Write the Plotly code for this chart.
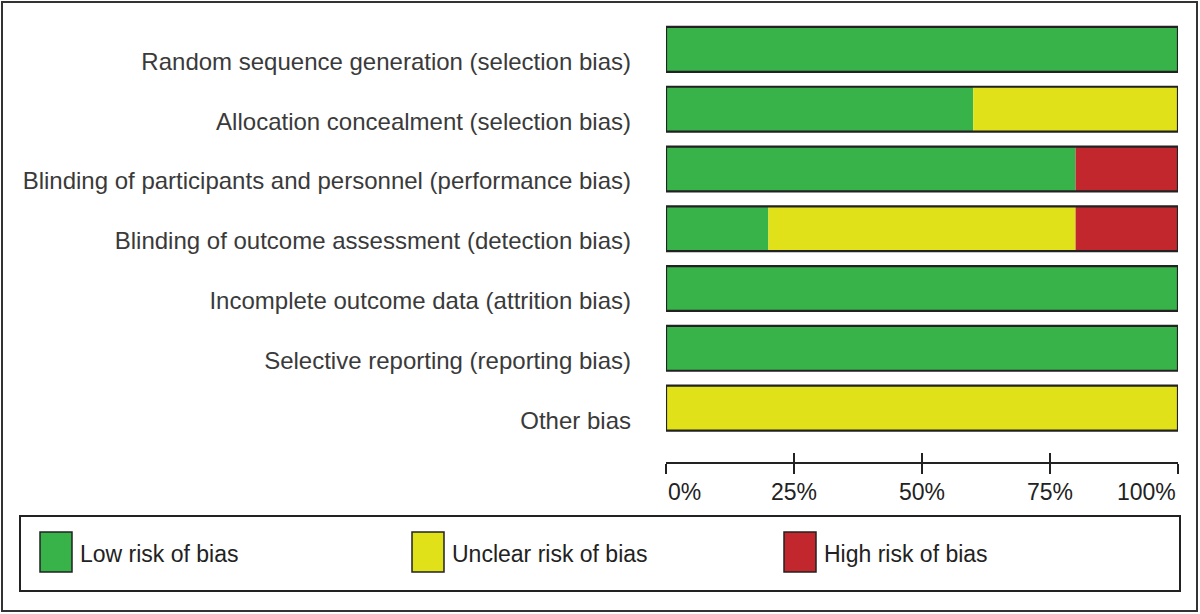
import plotly.graph_objects as go

# ---------------- data ----------------
categories = [
    "Random sequence generation (selection bias)",
    "Allocation concealment (selection bias)",
    "Blinding of participants and personnel (performance bias)",
    "Blinding of outcome assessment (detection bias)",
    "Incomplete outcome data (attrition bias)",
    "Selective reporting (reporting bias)",
    "Other bias",
]
low_risk = [100, 60, 80, 20, 100, 100, 0]
unclear_risk = [0, 40, 0, 60, 0, 0, 100]
high_risk = [0, 0, 20, 20, 0, 0, 0]
tick_values = [0, 25, 50, 75, 100]
tick_labels = ["0%", "25%", "50%", "75%", "100%"]
legend_labels = ["Low risk of bias", "Unclear risk of bias", "High risk of bias"]

# ---------------- style ----------------
W, H = 1200, 614
GREEN, YELLOW, RED = "#37b34a", "#e1e11a", "#c1272d"
DARK = "#222222"
TEXT = "#3a3a3a"
FONT = "Liberation Sans Narrow, Arial Narrow, Liberation Sans, Arial, sans-serif"


def px(x):
    return x / W


def py(y):
    return 1 - y / H


series = [low_risk, unclear_risk, high_risk]
colors = [GREEN, YELLOW, RED]

fig = go.Figure()
base = [0] * len(categories)
for vals, col, name in zip(series, colors, legend_labels):
    fig.add_trace(go.Bar(
        y=categories, x=vals, base=list(base), orientation="h",
        marker=dict(color=col, line=dict(width=0)), width=0.75,
        name=name, showlegend=False,
        hovertemplate="%{y}<br>" + name + ": %{x}%<extra></extra>",
    ))
    base = [b + v for b, v in zip(base, vals)]

# outline of each whole bar
fig.add_trace(go.Bar(
    y=categories, x=base, base=[0] * len(categories), orientation="h",
    marker=dict(color="rgba(0,0,0,0)", line=dict(width=2.2, color=DARK)),
    width=0.75, showlegend=False, hoverinfo="skip",
))

axis_common = dict(
    range=[0, 100], domain=[px(666), px(1178)], anchor="free", position=py(463),
    tickvals=tick_values, showticklabels=False, ticklen=10, tickwidth=2,
    tickcolor=DARK, showgrid=False, zeroline=False, fixedrange=True, automargin=False,
)
fig.update_layout(
    width=W, height=H,
    margin=dict(l=0, r=0, t=0, b=0, autoexpand=False),
    paper_bgcolor="white", plot_bgcolor="white",
    barmode="overlay",
    font=dict(family=FONT, color=TEXT, size=24),
    xaxis=dict(**axis_common, ticks="outside", showline=True, linecolor=DARK, linewidth=2),
    xaxis2=dict(**axis_common, ticks="inside", showline=False, overlaying="x", side="bottom"),
    yaxis=dict(
        domain=[py(438), py(19.5)], range=[6.5, -0.5], type="category",
        ticks="", showgrid=False, zeroline=False, showline=False, automargin=False,
        ticklabelstandoff=34, ticklabelshift=-12,
        tickfont=dict(size=24, color=TEXT, family=FONT),
    ),
)
# invisible trace so xaxis2 is drawn
fig.add_trace(go.Scatter(x=[0], y=[categories[0]], xaxis="x2", mode="markers",
                         marker=dict(opacity=0), showlegend=False, hoverinfo="skip"))

# tick labels
annotations = []
for v, t in zip(tick_values, tick_labels):
    anchor = "left" if v == tick_values[0] else ("right" if v == tick_values[-1] else "center")
    annotations.append(dict(
        x=v, y=py(492), xref="x", yref="paper", text=t, showarrow=False,
        xanchor=anchor, yanchor="middle", font=dict(size=23, color=DARK, family=FONT),
    ))

shapes = []
# outer frame
shapes.append(dict(type="rect", xref="paper", yref="paper", x0=px(2), x1=px(1197),
                   y0=py(611), y1=py(2), line=dict(color="#333333", width=2)))
# legend box
shapes.append(dict(type="rect", xref="paper", yref="paper", x0=px(20), x1=px(1180),
                   y0=py(591), y1=py(516), line=dict(color=DARK, width=2)))
legend_x = [40, 412, 784]
for lx, col, lab in zip(legend_x, colors, legend_labels):
    shapes.append(dict(type="rect", xref="paper", yref="paper", x0=px(lx), x1=px(lx + 32),
                       y0=py(572), y1=py(532), fillcolor=col, line=dict(color=DARK, width=1.5)))
    annotations.append(dict(
        x=px(lx + 38), y=py(554), xref="paper", yref="paper", text=lab, showarrow=False,
        xanchor="left", yanchor="middle", font=dict(size=23, color=DARK, family=FONT),
    ))

fig.update_layout(shapes=shapes, annotations=annotations)
fig.write_html(
    "out.html",
    config={"displayModeBar": False},
    post_script="document.body.style.margin='0';document.body.style.overflow='hidden';",
)
